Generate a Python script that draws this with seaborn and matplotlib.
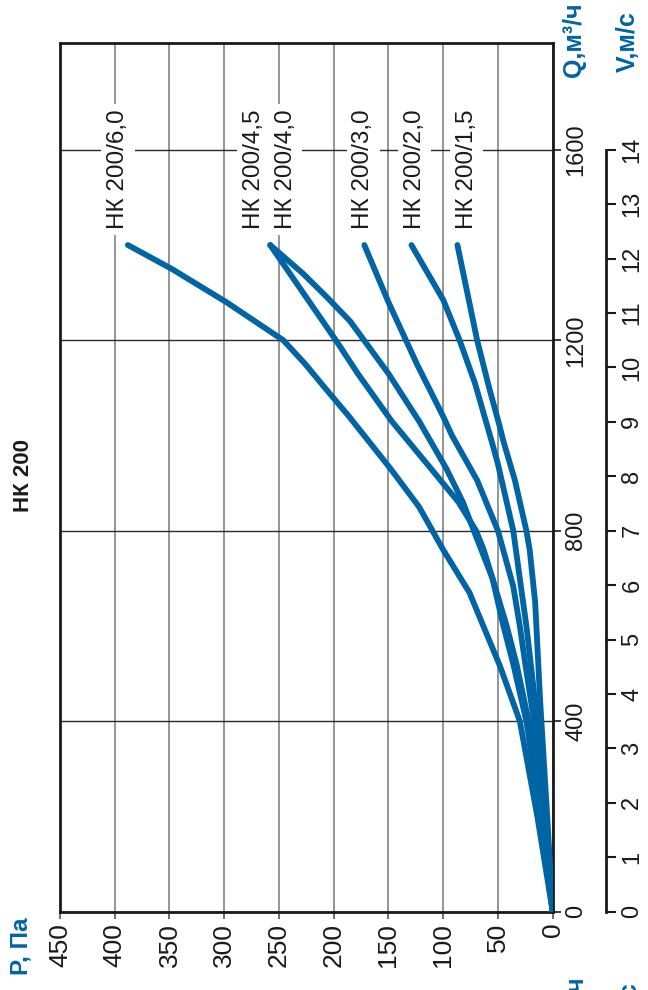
# Характеристики НК 200: потери давления P (Па) от расхода Q (м³/ч), график повёрнут на 90°

import pandas as pd
import seaborn as sns
import matplotlib.pyplot as plt

# Данные кривых (Q, м³/ч ; P, Па)
q_60 = [0, 200, 400, 515, 670, 760, 850, 930, 1040, 1100, 1150, 1200, 1240, 1280, 1350, 1400]
p_60 = [0, 14, 30, 48, 76, 100, 122, 148, 186, 208, 226, 246, 272, 298, 348, 388]

q_45 = [0, 200, 400, 520, 600, 700, 760, 800, 860, 930, 1030, 1130, 1200, 1240, 1320, 1400]
p_45 = [0, 11, 24, 36, 45, 55, 63, 70, 86, 111, 147, 178, 198, 210, 234, 258]

q_40 = [0, 200, 400, 520, 600, 700, 800, 860, 930, 1030, 1130, 1240, 1290, 1340, 1400]
p_40 = [0, 10, 22, 33, 42, 55, 72, 82, 97, 122, 150, 185, 206, 228, 258]

q_30 = [0, 200, 400, 520, 600, 683, 800, 906, 1000, 1040, 1150, 1280, 1400]
p_30 = [0, 8, 17, 25, 30, 36, 50, 69, 92, 100, 124, 150, 172]

q_20 = [0, 200, 400, 600, 683, 800, 940, 990, 1110, 1200, 1285, 1400]
p_20 = [0, 7, 14, 24, 29, 36, 50, 56, 71, 85, 100, 129]

q_15 = [0, 200, 445, 650, 760, 800, 906, 988, 1020, 1100, 1200, 1400]
p_15 = [0, 5, 11.5, 16, 21, 24, 34.5, 45, 48.5, 58, 69, 87]

models = ['НК 200/6,0', 'НК 200/4,5', 'НК 200/4,0', 'НК 200/3,0', 'НК 200/2,0', 'НК 200/1,5']
label_p = [397, 273, 244, 173, 126, 78.5]
label_q = 1559

p_ticks = [0, 50, 100, 150, 200, 250, 300, 350, 400, 450]
q_ticks = [0, 400, 800, 1200, 1600]
v_ticks = list(range(0, 15))

# Сборка таблицы
frames = []
for name, q, p in zip(models, [q_60, q_45, q_40, q_30, q_20, q_15],
                      [p_60, p_45, p_40, p_30, p_20, p_15]):
    frames.append(pd.DataFrame({'Q': q, 'P': p, 'model': name}))
df = pd.concat(frames, ignore_index=True)

sns.set_style('white')
plt.rcParams['font.family'] = ['Liberation Sans', 'DejaVu Sans']

blue = '#0064a5'
dark = '#1a1a1a'

fig = plt.figure(figsize=(6.48, 9.9), dpi=100)
ax = fig.add_axes([0.0926, 0.0791, 0.7603, 0.8778])

sns.lineplot(data=df, x='P', y='Q', units='model', estimator=None, sort=False,
             color=blue, lw=4.2, solid_capstyle='round', solid_joinstyle='round',
             ax=ax, zorder=3)

ax.set_xlim(450, 0)
ax.set_ylim(0, 1825)
ax.set_xlabel('')
ax.set_ylabel('')

ax.set_xticks(p_ticks)
ax.set_xticklabels([str(v) for v in p_ticks], rotation=90, fontsize=19, color=dark)
ax.yaxis.tick_right()
ax.set_yticks(q_ticks)
ax.set_yticklabels([str(v) for v in q_ticks], rotation=90, va='center', fontsize=17, color=dark)

ax.grid(False)
ax.xaxis.grid(True, color='#8c8c8c', lw=1.3)
ax.yaxis.grid(True, color='#2a2a2a', lw=1.0)
ax.set_axisbelow(True)
for s in ax.spines.values():
    s.set_visible(True)
    s.set_color(dark)
    s.set_linewidth(2)
ax.tick_params(axis='x', bottom=True, direction='out', length=5, width=1.2, color='#555555', pad=3)
ax.tick_params(axis='y', right=True, left=False, direction='out', length=6, width=1.2, color=dark, pad=3)

# Подписи кривых
for name, pl in zip(models, label_p):
    ax.text(pl, label_q, name, rotation=90, ha='center', va='center', fontsize=17.5,
            color=dark, zorder=5, bbox=dict(facecolor='white', edgecolor='none', pad=4))

# Ось скорости V, м/с
axv = fig.add_axes([(606 - 20) / 648, 0.0791, 20 / 648, 0.8778])
axv.patch.set_alpha(0)
axv.set_ylim(0, 1825 * 14 / 1600)
axv.set_xticks([])
axv.yaxis.tick_right()
axv.set_yticks(v_ticks)
axv.set_yticklabels([str(v) for v in v_ticks], rotation=90, va='center', fontsize=17, color=dark)
for side in ['left', 'top', 'bottom']:
    axv.spines[side].set_visible(False)
axv.spines['right'].set_visible(True)
axv.spines['right'].set_bounds(0, 14)
axv.spines['right'].set_color(dark)
axv.spines['right'].set_linewidth(2)
axv.tick_params(axis='y', right=True, left=False, direction='out', length=7, width=1.5, color=dark, pad=4)

# Заголовок и названия осей
fig.text(23.5 / 648, 1 - 475 / 990, 'НК 200', rotation=90, ha='center', va='center',
         fontsize=16, fontweight='bold', color=dark)
fig.text(574 / 648, 1 - 40 / 990, 'Q,м³/ч', rotation=90, ha='center', va='center',
         fontsize=18, fontweight='bold', color=blue)
fig.text(628 / 648, 1 - 42 / 990, 'V,м/с', rotation=90, ha='center', va='center',
         fontsize=18, fontweight='bold', color=blue)
fig.text(21 / 648, 1 - 946 / 990, 'P, Па', rotation=90, ha='center', va='center',
         fontsize=17.5, fontweight='bold', color=blue)
# обрезанные повторы подписей внизу (как в оригинале)
fig.text(576 / 648, 1 - 976 / 990, 'Q,м³/ч', rotation=90, ha='center', va='top',
         fontsize=18, fontweight='bold', color=blue)
fig.text(630 / 648, 1 - 982 / 990, 'V,м/с', rotation=90, ha='center', va='top',
         fontsize=18, fontweight='bold', color=blue)

fig.savefig('out.png', dpi=100)
